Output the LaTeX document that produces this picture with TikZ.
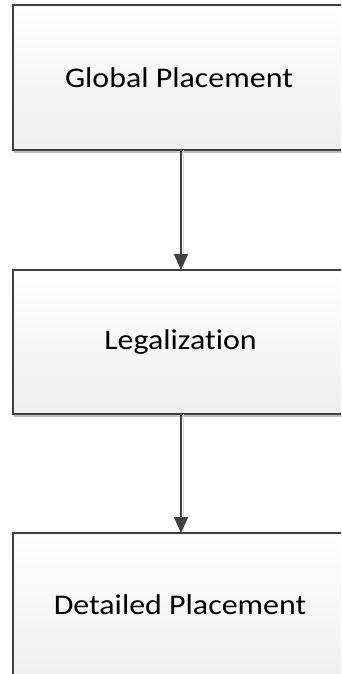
\documentclass[tikz,border=0pt]{standalone}
\usepackage{fontspec}
\setmainfont{Carlito}[Ligatures={NoCommon}]
\usetikzlibrary{arrows.meta,fit}
\definecolor{edge}{HTML}{404040}
\definecolor{boxbottom}{HTML}{EEEEEE}
\begin{document}
\begin{tikzpicture}[x=1pt,y=-1pt,
  stage/.style={draw=edge, line width=1.6pt, top color=white, bottom color=boxbottom,
    inner sep=0pt, outer sep=0pt},
  shade/.style={draw=black!25, line width=1.6pt},
  label/.style={font=\fontsize{28.5}{32}\selectfont, inner sep=0pt},
  flow/.style={draw=edge, line width=1.6pt, -{Triangle[width=14pt,length=16pt]}}]
  \useasboundingbox (0,0) rectangle (341,674);
  \clip (0,0) rectangle (341,674);
  \fill[white] (0,0) rectangle (341,674);
  % soft offset edges under each box
  \draw[shade] (14.5,7) rectangle (380,151.8);
  \draw[shade] (14.5,272) rectangle (380,415.8);
  \draw[shade] (14.5,535) rectangle (380,690);
  % the three stages
  \node[stage, fit={(13,5) (380,150)}] (gp) {};
  \node[stage, fit={(13,270) (380,414)}] (lg) {};
  \node[stage, fit={(13,533) (380,690)}] (dp) {};
  \node[label] (gpt) at (179,77.5) {\scalebox{1.12}[1]{Global Placement}};
  \node[label] (lgt) at (180.5,342) {\scalebox{1.12}[1]{Legalization}};
  \node[label] (dpt) at (180,605) {\scalebox{1.12}[1]{Detailed Placement}};
  % connectors
  \coordinate (ax) at (181,0);
  \draw[shade, line width=1.2pt, draw=black!15] ([xshift=2.5pt]ax |- gp.south) -- ([xshift=2.5pt,yshift=2pt]ax |- lg.north);
  \draw[shade, line width=1.2pt, draw=black!15] ([xshift=2.5pt]ax |- lg.south) -- ([xshift=2.5pt,yshift=2pt]ax |- dp.north);
  \draw[flow] (ax |- gp.south) -- (ax |- lg.north);
  \draw[flow] (ax |- lg.south) -- (ax |- dp.north);
\end{tikzpicture}
\end{document}
